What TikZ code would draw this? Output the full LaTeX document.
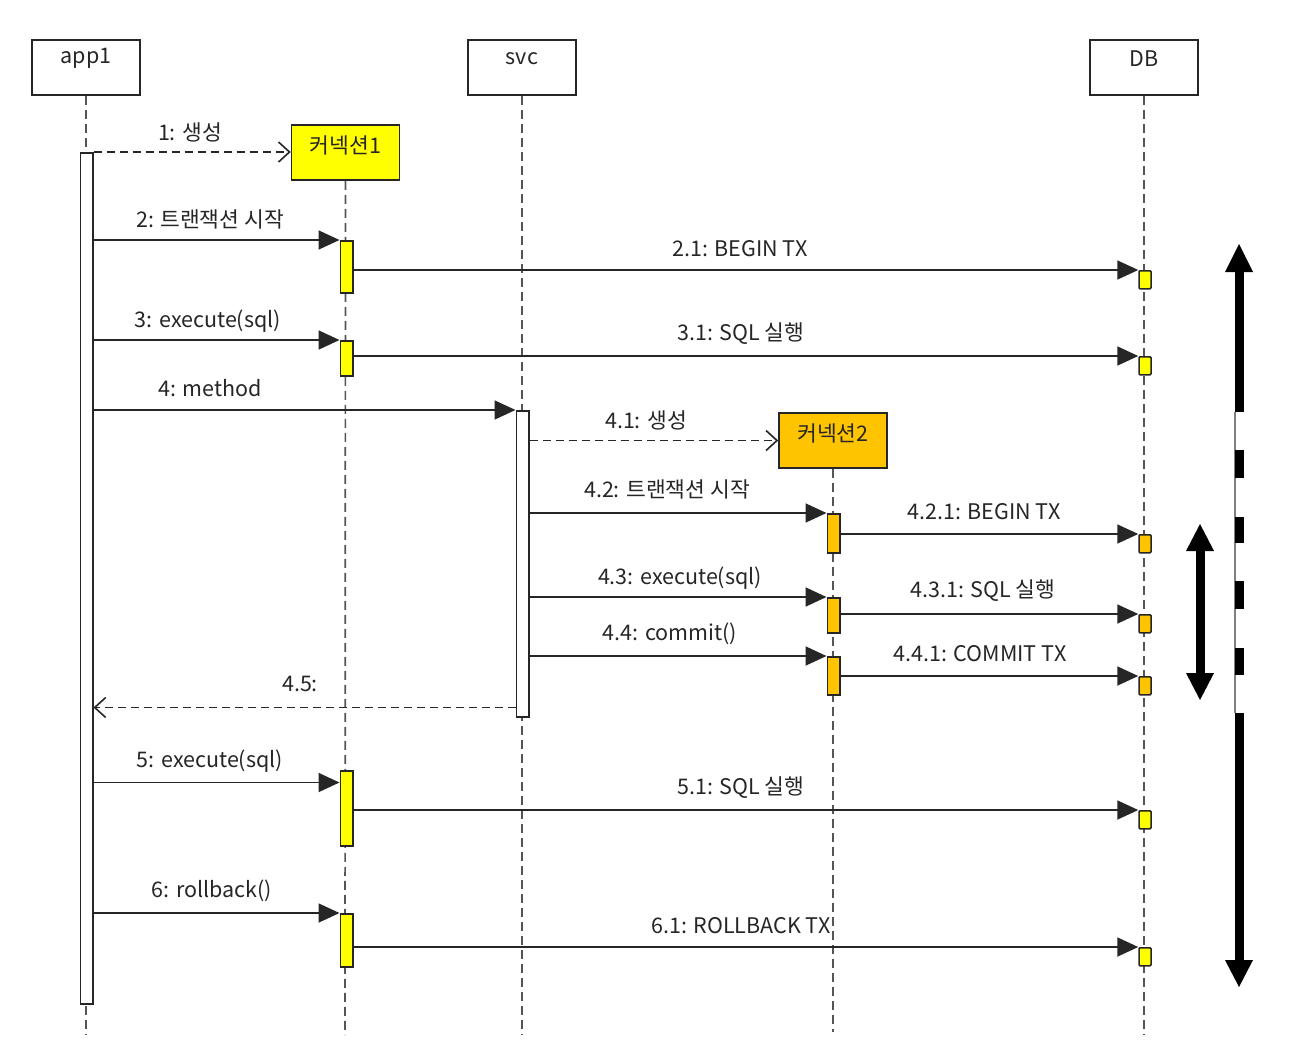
\documentclass[tikz,border=0pt]{standalone}
\usepackage{fontspec}
\setmainfont{Noto Sans CJK KR}
\usetikzlibrary{arrows.meta,calc}
\definecolor{ln}{HTML}{262626}
\definecolor{lifec}{HTML}{555555}
\definecolor{yel}{HTML}{FFFF00}
\definecolor{org}{HTML}{FFC400}
\begin{document}
\begin{tikzpicture}[x=1pt,y=-1pt,
  font=\fontsize{21.5}{24}\selectfont, text=ln,
  head/.style={draw=ln, line width=1.6pt, minimum width=108pt, minimum height=55pt, inner sep=0pt, fill=white},
  obj/.style={head, fill=#1},
  lbl/.style={inner sep=0pt, anchor=center},
  life/.style={draw=lifec, line width=1.7pt, dash pattern=on 9pt off 5pt},
  act/.style={draw=ln, line width=1.5pt, minimum width=12.5pt, minimum height=#1, inner sep=0pt, anchor=north},
  dbact/.style={draw=ln, line width=1.5pt, minimum width=12pt, minimum height=18pt, inner sep=0pt, anchor=north, rounded corners=1pt},
  msg/.style={draw=ln, line width=1.8pt, -{Triangle[length=21pt,width=19pt]}},
  ret/.style={draw=ln, line width=1.8pt, dash pattern=on 8pt off 5pt, -{Straight Barb[length=11pt,width=20pt,line width=1.6pt]}},
  bigarr/.style={fill=black}
]
\useasboundingbox (0,0) rectangle (1306,1058);
\fill[white] (0,0) rectangle (1306,1058);

% heads
\node[head] (app1) at (86,67.5) {};
\node[lbl] at ($(app1.center)+(0,-9)$) {app1};
\node[head] (svc) at (522,67.5) {};
\node[lbl] at ($(svc.center)+(0,-9)$) {svc};
\node[head] (db) at (1144,67.5) {};
\node[lbl] at ($(db.center)+(0,-9)$) {DB};

% lifeline ends
\coordinate (app1end) at (86,1035);
\coordinate (svcend) at (522,1035);
\coordinate (dbend) at (1144,1035);
\coordinate (c1end) at (345,1035);
\coordinate (c2end) at (833,1032);

\draw[life] (app1.south) -- (app1end);
\draw[life] (svc.south) -- (svcend);
\draw[life] (db.south) -- (dbend);

% connection objects
\node[obj=yel] (c1) at (345.5,152.5) {};
\node[lbl] at ($(c1.center)+(0,-7)$) {커넥션1};
\node[obj=org] (c2) at (833,440.5) {};
\node[lbl] at ($(c2.center)+(0,-7)$) {커넥션2};
\draw[life] (c1.south) -- (c1end);
\draw[life] (c2.south) -- (c2end);

% activations
\node[act=851pt, fill=white] (A1) at (86.5,152) {};
\node[act=306pt, fill=white] (S) at (522.5,410) {};
\node[act=52pt, fill=yel] (C1a) at (346.5,240) {};
\node[act=35pt, fill=yel] (C1b) at (346.5,340) {};
\node[act=75pt, fill=yel] (C1c) at (346.5,770) {};
\node[act=53pt, fill=yel] (C1d) at (346.5,913) {};
\node[act=39pt, fill=org] (C2a) at (833.5,513) {};
\node[act=35pt, fill=org] (C2b) at (833.5,597) {};
\node[act=38pt, fill=org] (C2c) at (833.5,656) {};
\node[dbact, fill=yel] (D1) at (1145,270) {};
\node[dbact, fill=yel] (D2) at (1145,356) {};
\node[dbact, fill=org] (D3) at (1145,534) {};
\node[dbact, fill=org] (D4) at (1145,614) {};
\node[dbact, fill=org] (D5) at (1145,676) {};
\node[dbact, fill=yel] (D6) at (1145,810) {};
\node[dbact, fill=yel] (D7) at (1145,947) {};

% messages
\draw[ret] (A1.north east) -- (c1.west |- A1.north east);
\node[lbl] at (190,132) {1: 생성};
\draw[msg] (A1.east |- C1a.north) -- (C1a.north west);
\node[lbl] at (210,219) {2: 트랜잭션 시작};
\draw[msg] (C1a.east |- D1.north) -- (D1.north west);
\node[lbl] at (740,249) {2.1: BEGIN TX};
\draw[msg] (A1.east |- C1b.north) -- (C1b.north west);
\node[lbl] at (208,321) {3: execute(sql)};
\draw[msg] (C1b.east |- D2.north) -- (D2.north west);
\node[lbl] at (741,334) {3.1: SQL 실행};
\draw[msg] (A1.east |- S.north) -- (S.north west);
\node[lbl] at (210,388) {4: method};
\draw[ret] (S.east |- c2.west) -- (c2.west);
\node[lbl] at (646,420) {4.1: 생성};
\draw[msg] (S.east |- C2a.north) -- (C2a.north west);
\node[lbl] at (667,489) {4.2: 트랜잭션 시작};
\draw[msg] (C2a.east |- D3.north) -- (D3.north west);
\node[lbl] at (984,512) {4.2.1: BEGIN TX};
\draw[msg] (S.east |- C2b.north) -- (C2b.north west);
\node[lbl] at (680,578) {4.3: execute(sql)};
\draw[msg] (C2b.east |- D4.north) -- (D4.north west);
\node[lbl] at (983,591) {4.3.1: SQL 실행};
\draw[msg] (S.east |- C2c.north) -- (C2c.north west);
\node[lbl] at (670,634) {4.4: commit()};
\draw[msg] (C2c.east |- D5.north) -- (D5.north west);
\node[lbl] at (980,654) {4.4.1: COMMIT TX};
\coordinate (r45) at ($(S.south west)+(0,-10)$);
\draw[ret] (r45) -- (A1.east |- r45);
\node[lbl] at (300,684) {4.5:};
\coordinate (m5) at ($(C1c.north west)+(0,12.5)$);
\draw[msg] (A1.east |- m5) -- (m5);
\node[lbl] at (210,761) {5: execute(sql)};
\draw[msg] (C1c.east |- D6.north) -- (D6.north west);
\node[lbl] at (741,788) {5.1: SQL 실행};
\draw[msg] (A1.east |- C1d.north) -- (C1d.north west);
\node[lbl] at (212,891) {6: rollback()};
\draw[msg] (C1d.east |- D7.north) -- (D7.north west);
\node[lbl] at (741,926) {6.1: ROLLBACK TX};

% big right arrow (transaction span)
\draw[draw=gray, line width=1.6pt] (1235,412) -- (1235,713);
\fill[bigarr] (1225,272) -- (1239,244) -- (1253,272) -- cycle;
\fill[bigarr] (1234.5,271) rectangle (1243.5,412);
\fill[bigarr] (1234.5,450) rectangle (1243.5,478);
\fill[bigarr] (1234.5,517) rectangle (1243.5,543);
\fill[bigarr] (1234.5,581) rectangle (1243.5,609);
\fill[bigarr] (1234.5,648) rectangle (1243.5,675);
\fill[bigarr] (1234.5,713) rectangle (1243.5,961);
\fill[bigarr] (1225,960) -- (1239,987) -- (1253,960) -- cycle;

% small double arrow
\fill[bigarr] (1186,551) -- (1200,524) -- (1214,551) -- cycle;
\fill[bigarr] (1195.5,550) rectangle (1204.5,674);
\fill[bigarr] (1186,673) -- (1200,700) -- (1214,673) -- cycle;
\end{tikzpicture}
\end{document}
